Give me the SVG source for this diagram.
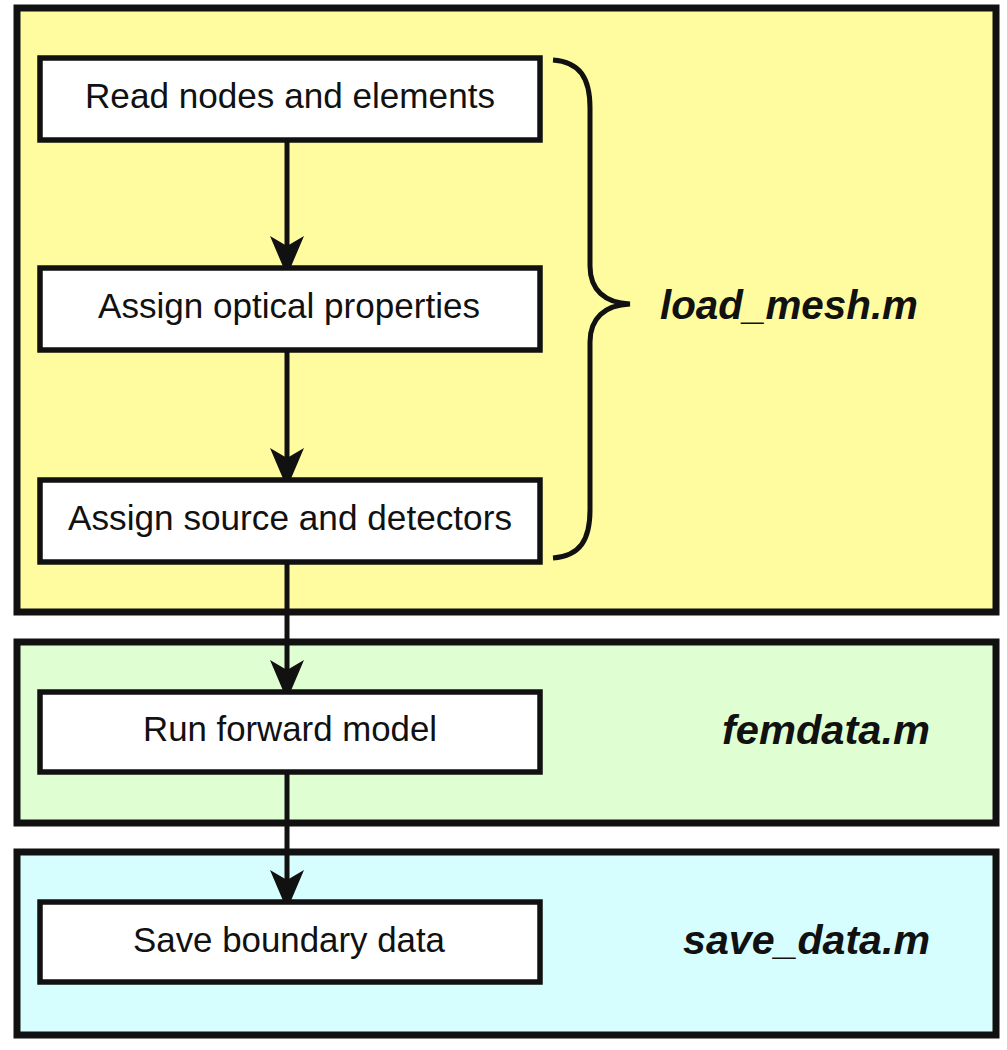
<svg xmlns="http://www.w3.org/2000/svg" width="1007" height="1050" viewBox="0 0 1007 1050">
<defs>
<style>
.panel{stroke:#111;stroke-width:7}
.box{fill:#fff;stroke:#111;stroke-width:5.5}
.lbl{font-family:"Liberation Sans",Arial,sans-serif;font-size:35px;fill:#111;text-anchor:middle}
.file{font-family:"Liberation Sans",Arial,sans-serif;font-size:40px;font-weight:bold;font-style:italic;fill:#111}
.conn{stroke:#111;stroke-width:5;fill:none}
</style>
<marker id="ah" markerWidth="8" markerHeight="8" refX="6" refY="4" orient="auto" markerUnits="strokeWidth" viewBox="0 0 8 8">
<path d="M0,0.6 L8,4 L0,7.4 L2,4 Z" fill="#111"/>
</marker>
</defs>
<rect width="1007" height="1050" fill="#fff"/>
<g id="panel-load">
<rect class="panel" x="17" y="8" width="979" height="604" fill="#FFFC9F"/>
</g>
<g id="panel-fem">
<rect class="panel" x="17" y="642" width="979" height="181" fill="#DFFFD3"/>
</g>
<g id="panel-save">
<rect class="panel" x="17" y="852" width="979" height="183" fill="#D7FEFE"/>
</g>
<g id="connectors">
<line class="conn" x1="287" y1="140" x2="287" y2="266" marker-end="url(#ah)"/>
<line class="conn" x1="287" y1="350" x2="287" y2="478" marker-end="url(#ah)"/>
<line class="conn" x1="287" y1="562" x2="287" y2="690" marker-end="url(#ah)"/>
<line class="conn" x1="287" y1="772" x2="287" y2="900" marker-end="url(#ah)"/>
</g>
<g id="brace">
<path class="conn" d="M553,60 C580,62 590,78 590,108 L590,266 C590,290 605,303 630,304 C605,305 590,318 590,342 L590,510 C590,540 580,556 553,558"/>
</g>
<g id="n1">
<rect class="box" x="40" y="58" width="500" height="82"/>
<text class="lbl" x="290" y="108" textLength="410" lengthAdjust="spacingAndGlyphs">Read nodes and elements</text>
</g>
<g id="n2">
<rect class="box" x="40" y="268" width="500" height="82"/>
<text class="lbl" x="289" y="318" textLength="382" lengthAdjust="spacingAndGlyphs">Assign optical properties</text>
</g>
<g id="n3">
<rect class="box" x="40" y="480" width="500" height="82"/>
<text class="lbl" x="290" y="530" textLength="444" lengthAdjust="spacingAndGlyphs">Assign source and detectors</text>
</g>
<g id="n4">
<rect class="box" x="40" y="692" width="500" height="80"/>
<text class="lbl" x="290" y="741" textLength="294" lengthAdjust="spacingAndGlyphs">Run forward model</text>
</g>
<g id="n5">
<rect class="box" x="40" y="902" width="500" height="80"/>
<text class="lbl" x="289" y="952" textLength="312" lengthAdjust="spacingAndGlyphs">Save boundary data</text>
</g>
<g id="labels">
<text class="file" x="660" y="319" textLength="258" lengthAdjust="spacingAndGlyphs">load_mesh.m</text>
<text class="file" x="722" y="744" textLength="208" lengthAdjust="spacingAndGlyphs">femdata.m</text>
<text class="file" x="683" y="954" textLength="247" lengthAdjust="spacingAndGlyphs">save_data.m</text>
</g>
</svg>
